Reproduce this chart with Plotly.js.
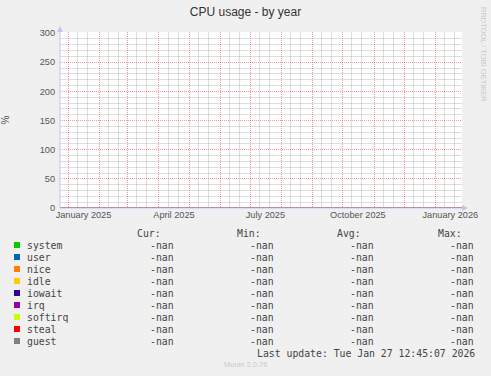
<!DOCTYPE html>
<html>
<head>
<meta charset="utf-8">
<script src="https://cdn.plot.ly/plotly-3.0.1.min.js"></script>
<style>html,body{margin:0;padding:0;background:#f0f0f0;}#chart{width:491px;height:376px;}</style>
</head>
<body>
<div id="chart"></div>
<script>
// ---- data ----
const seriesNames = ['system','user','nice','idle','iowait','irq','softirq','steal','guest'];
const seriesColors = ['#00cc00','#0066b3','#ff8000','#ffcc00','#330099','#990099','#ccff00','#ff0000','#808080'];
const curValues = ['-nan','-nan','-nan','-nan','-nan','-nan','-nan','-nan','-nan'];
const minValues = ['-nan','-nan','-nan','-nan','-nan','-nan','-nan','-nan','-nan'];
const avgValues = ['-nan','-nan','-nan','-nan','-nan','-nan','-nan','-nan','-nan'];
const maxValues = ['-nan','-nan','-nan','-nan','-nan','-nan','-nan','-nan','-nan'];
const sampleTimes = ['2024-12-23 12:45:07','2026-01-27 12:45:07'];
const seriesY = seriesNames.map(() => [null, null]); // all NaN
const monthStarts = ['2025-01-01','2025-02-01','2025-03-01','2025-04-01','2025-05-01','2025-06-01','2025-07-01','2025-08-01','2025-09-01','2025-10-01','2025-11-01','2025-12-01','2026-01-01'];
const monthLabels = ['January 2025','','','April 2025','','','July 2025','','','October 2025','','','January 2026'];
const yMajor = [0, 50, 100, 150, 200, 250, 300];
const yMinor = [10,20,30,40,60,70,80,90,110,120,130,140,160,170,180,190,210,220,230,240,260,270,280,290];
const columnHeaders = ['Cur:','Min:','Avg:','Max:'];
const chartTitle = 'CPU usage - by year';
const yTitle = '%';
const lastUpdate = 'Last update: Tue Jan 27 12:45:07 2026';
const footer = 'Munin 2.0.76';
const watermark = 'RRDTOOL / TOBI OETIKER';

// minor vertical grid: days 10 and 20 of each month in range
const gridMonths = ['2024-12','2025-01','2025-02','2025-03','2025-04','2025-05','2025-06','2025-07','2025-08','2025-09','2025-10','2025-11','2025-12','2026-01'];
const minorDays = ['10','20'];
const minorVals = [];
gridMonths.forEach(m => minorDays.forEach(d => minorVals.push(m + '-' + d)));

// ---- geometry helpers ----
// plot area: x 60..462, y value 300 at pixel 33, value 0 at pixel 208; one extra px on top
const L = 60, T = 32, PW = 402, PH = 176;
const yTop = 300 * PH / 175;
const px = x => (x - L) / PW;
const py = y => (T + PH - y) / PH;

const traces = seriesNames.map((n, i) => ({
  type: 'scatter', mode: 'lines', name: n,
  x: sampleTimes, y: seriesY[i],
  stackgroup: 'one', line: {color: seriesColors[i], width: 1},
  fillcolor: seriesColors[i], showlegend: false, hoverinfo: 'skip'
}));
// empty carrier trace so the minor-grid overlay axes are built
traces.push({type: 'scatter', mode: 'lines', x: [], y: [], xaxis: 'x2', yaxis: 'y2', showlegend: false, hoverinfo: 'skip'});

const mono = {family: 'DejaVu Sans Mono, monospace', size: 9.8, color: '#444'};
const annotations = [];
const shapes = [];
const rowY = i => 245 + 12 * i;
const colRight = [175, 275, 375, 475];
const headRight = [162, 262, 362, 463];

columnHeaders.forEach((h, c) => annotations.push({
  xref: 'paper', yref: 'paper', x: px(headRight[c]), y: py(233), xanchor: 'right', yanchor: 'middle',
  text: h, showarrow: false, font: mono, borderpad: 0
}));
const cols = [curValues, minValues, avgValues, maxValues];
seriesNames.forEach((n, i) => {
  annotations.push({xref: 'paper', yref: 'paper', x: px(26), y: py(rowY(i)), xanchor: 'left', yanchor: 'middle',
    text: n, showarrow: false, font: mono, borderpad: 0});
  cols.forEach((arr, c) => annotations.push({xref: 'paper', yref: 'paper', x: px(colRight[c]), y: py(rowY(i)),
    xanchor: 'right', yanchor: 'middle', text: arr[i], showarrow: false, font: mono, borderpad: 0}));
  shapes.push({type: 'rect', xref: 'paper', yref: 'paper', x0: px(14), x1: px(20), y0: py(rowY(i) + 3), y1: py(rowY(i) - 3),
    fillcolor: seriesColors[i], line: {width: 0}});
});
annotations.push({xref: 'paper', yref: 'paper', x: px(476), y: py(353), xanchor: 'right', yanchor: 'middle',
  text: lastUpdate, showarrow: false, font: mono, borderpad: 0});
annotations.push({xref: 'paper', yref: 'paper', x: px(245), y: py(364), xanchor: 'center', yanchor: 'middle',
  text: footer, showarrow: false, font: {family: 'Liberation Sans, Arial', size: 7.5, color: '#c8c8c8'}, borderpad: 0});
annotations.push({xref: 'paper', yref: 'paper', x: px(484), y: py(54), xanchor: 'center', yanchor: 'middle',
  text: watermark, textangle: 90, showarrow: false, font: {family: 'Liberation Sans, Arial', size: 7.5, color: '#c8c8c8'}, borderpad: 0});

// axis lines with arrows
const axisCol = '#c4c4f4';
shapes.push({type: 'line', xref: 'paper', yref: 'paper', x0: px(60), x1: px(60), y0: py(208), y1: py(30), line: {color: axisCol, width: 1}});
shapes.push({type: 'line', xref: 'paper', yref: 'paper', x0: px(60), x1: px(464), y0: py(208), y1: py(208), line: {color: axisCol, width: 1}});
shapes.push({type: 'path', xref: 'paper', yref: 'paper',
  path: `M ${px(60)},${py(26)} L ${px(57)},${py(32)} L ${px(63)},${py(32)} Z`, fillcolor: axisCol, line: {width: 0}});
shapes.push({type: 'path', xref: 'paper', yref: 'paper',
  path: `M ${px(468)},${py(208)} L ${px(462)},${py(205)} L ${px(462)},${py(211)} Z`, fillcolor: axisCol, line: {width: 0}});

const tickFont = {family: 'Liberation Sans, Arial, sans-serif', size: 9.2, color: '#555'};
const majorGrid = 'rgba(255,0,0,0.42)';
const minorGrid = 'rgba(128,128,128,0.26)';
const majorDash = '1px,1px';

const layout = {
  width: 491, height: 376,
  margin: {l: L, r: 491 - L - PW, t: T, b: 376 - T - PH, pad: 0},
  paper_bgcolor: '#f0f0f0', plot_bgcolor: '#ffffff',
  title: {text: chartTitle, xref: 'container', x: 0.5, xanchor: 'center', yref: 'container', y: 1 - 12 / 376, yanchor: 'middle',
    font: {family: 'Liberation Sans, Arial, sans-serif', size: 12, color: '#333'}},
  xaxis: {
    type: 'date', range: sampleTimes, fixedrange: true,
    tickmode: 'array', tickvals: monthStarts, ticktext: monthLabels, ticklabelshift: 15,
    showgrid: true, gridcolor: majorGrid, griddash: majorDash, gridwidth: 1,
    ticks: '', tickfont: tickFont, zeroline: false, showline: false
  },
  xaxis2: {
    type: 'date', range: sampleTimes, fixedrange: true, overlaying: 'x', anchor: 'y2',
    tickmode: 'array', tickvals: minorVals, showticklabels: false,
    showgrid: true, gridcolor: minorGrid, griddash: 'solid', gridwidth: 1,
    ticks: '', zeroline: false, showline: false
  },
  yaxis: {
    range: [0, yTop], tickmode: 'array', tickvals: yMajor, fixedrange: true,
    showgrid: true, gridcolor: majorGrid, griddash: majorDash, gridwidth: 1,
    ticks: '', tickfont: tickFont, ticklabelstandoff: 4, zeroline: false, showline: false,
    title: {text: yTitle, standoff: 28, font: {family: 'Liberation Sans, Arial, sans-serif', size: 10, color: '#555'}}
  },
  yaxis2: {
    range: [0, yTop], tickmode: 'array', tickvals: yMinor, fixedrange: true, overlaying: 'y', anchor: 'x2',
    showticklabels: false, showgrid: true, gridcolor: minorGrid, griddash: 'solid', gridwidth: 1,
    ticks: '', zeroline: false, showline: false
  },
  showlegend: false,
  annotations: annotations,
  shapes: shapes
};

Plotly.newPlot('chart', traces, layout, {staticPlot: true, displayModeBar: false});
</script>
</body>
</html>
